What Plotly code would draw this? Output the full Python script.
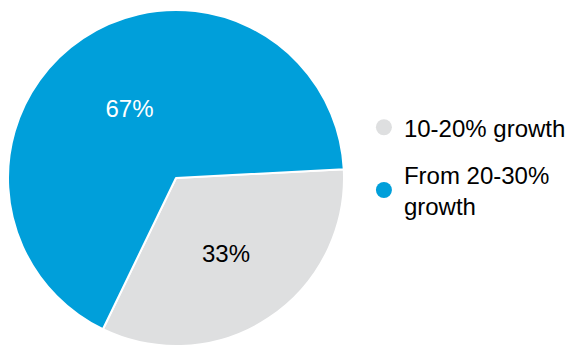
import plotly.graph_objects as go

labels = ["10-20% growth", "From 20-30% growth"]
legend_names = ["10-20% growth", "From 20-30%<br>growth"]
values = [33, 67]
colors = ["#DEDFE0", "#009FDA"]
text_colors = ["#000000", "#FFFFFF"]

fig = go.Figure()
fig.add_trace(go.Pie(
    labels=labels, values=values, sort=False, direction="clockwise", rotation=87,
    marker=dict(colors=colors, line=dict(color="white", width=2)),
    textinfo="percent", texttemplate="%{percent:.0%}", textposition="inside",
    insidetextorientation="horizontal",
    textfont=dict(family="Liberation Sans, Arial", size=24, color=text_colors),
    showlegend=False, hoverinfo="label+percent",
    domain=dict(x=[8/574, 344/574], y=[14/360, 350/360]),
))
for name, c in zip(legend_names, colors):
    fig.add_trace(go.Scatter(x=[None], y=[None], mode="markers", name=name,
                             marker=dict(color=c, size=16, symbol="circle"),
                             legendgroup=name))

fig.update_layout(
    width=574, height=360, margin=dict(l=0, r=0, t=0, b=0),
    paper_bgcolor="white", plot_bgcolor="white",
    xaxis=dict(visible=False), yaxis=dict(visible=False),
    font=dict(family="Liberation Sans, Arial", size=24, color="#000000"),
    legend=dict(x=0.634, y=0.708, xanchor="left", yanchor="top",
                tracegroupgap=13, itemsizing="trace",
                font=dict(size=24, color="#000000")),
)
fig.write_html("out.html", config={"displayModeBar": False},
               post_script="document.body.style.margin='0';")
